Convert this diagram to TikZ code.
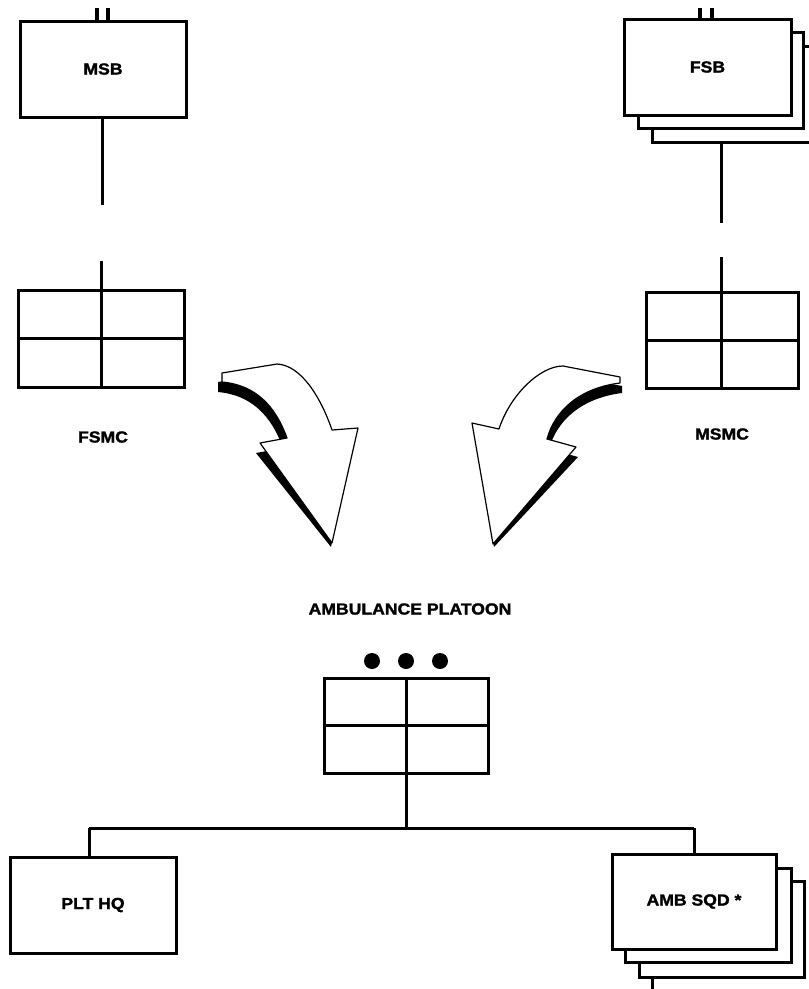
\documentclass[tikz,border=0pt]{standalone}
\usepackage{fontspec}
\setmainfont{Liberation Sans}
\newfontfamily\heavyfont{Liberation Sans Bold}[FakeBold=1.6]
\usepackage{graphicx}
\tikzset{
  lbl/.style={font=\fontsize{16}{16}\selectfont\heavyfont, inner sep=0pt},
  box/.style={draw, line width=3pt, fill=white, inner sep=0pt, font=\fontsize{16}{16}\selectfont\heavyfont},
  conn/.style={line width=3pt},
  tick/.style={line width=3.5pt},
  arrowbody/.style={draw, line width=1.2pt, fill=white, line join=round},
  arrowshadow/.style={fill=black},
  dot/.style={circle, fill=black, minimum size=16pt, inner sep=0pt},
}
\newcommand{\wt}[1]{\scalebox{1.1}[1]{#1}}
\begin{document}
\begin{tikzpicture}[x=1pt,y=-1pt]
\useasboundingbox (0,0) rectangle (809,989);
\clip (0,0) rectangle (809,989);

% ---------- MSB ----------
\node[box, minimum width=166pt, minimum height=96pt] (msb) at (103,69) {\wt{MSB}};
\coordinate (msbtA) at (97,8);
\coordinate (msbtB) at (108,8);
\draw[tick] (msbtA) -- (msbtA |- msb.north);
\draw[tick] (msbtB) -- (msbtB |- msb.north);
\coordinate (msbend) at (102,205);
\draw[conn] (msbend |- msb.south) -- (msbend);

% ---------- FSMC ----------
\node[box, minimum width=166pt, minimum height=97pt] (fsmc) at (101,338.5) {};
\draw[conn] (fsmc.north) -- (fsmc.south);
\draw[conn] (fsmc.west) -- (fsmc.east);
\coordinate (fsmctop) at (101,261);
\draw[conn] (fsmctop) -- (fsmc.north);
\node[lbl] (fsmclbl) at (103,437) {\wt{FSMC}};

% ---------- FSB stack ----------
\node[box, minimum width=166pt, minimum height=96pt] (fsb3) at (735,94) {};
\node[box, minimum width=165pt, minimum height=96pt] (fsb2) at (720.5,80) {};
\node[box, minimum width=167pt, minimum height=96pt] (fsb) at (707.5,67) {\wt{FSB}};
\coordinate (fsbtA) at (700,8);
\coordinate (fsbtB) at (712,8);
\draw[tick] (fsbtA) -- (fsbtA |- fsb.north);
\draw[tick] (fsbtB) -- (fsbtB |- fsb.north);
\coordinate (fsbend) at (721,223);
\draw[conn] (fsbend |- fsb3.south) -- (fsbend);

% ---------- MSMC ----------
\node[box, minimum width=152pt, minimum height=96pt] (msmc) at (722,340) {};
\draw[conn] (721,292) -- (721,388);
\draw[conn] (msmc.west) -- (msmc.east);
\coordinate (msmctop) at (721,257);
\draw[conn] (msmctop) -- (msmctop |- msmc.north);
\node[lbl] (msmclbl) at (722,434) {\wt{MSMC}};

% ---------- left curved arrow ----------
\fill[arrowshadow] (218,382) -- (273,373)
  .. controls (296,374) and (316,404) .. (328,439)
  -- (355,437) -- (331,547) -- (256,453) -- (283,448)
  .. controls (271,415) and (251,395) .. (218,392) -- cycle;
\path[arrowbody] (222,373) -- (277,364)
  .. controls (300,365) and (320,395) .. (332,430)
  -- (358,428) -- (332,543) -- (260,443) -- (287,438)
  .. controls (275,405) and (255,385) .. (222,382) -- cycle;

% ---------- right curved arrow ----------
\fill[arrowshadow] (622,386) -- (565,375)
  .. controls (542,375) and (512,404) .. (501,438)
  -- (474,432) -- (494,547) -- (578,457) -- (549,449)
  .. controls (557,420) and (582,398) .. (622,393) -- cycle;
\path[arrowbody] (620,377) -- (563,366)
  .. controls (540,366) and (510,395) .. (499,429)
  -- (472,423) -- (493,544) -- (576,447) -- (547,439)
  .. controls (555,410) and (580,388) .. (620,383) -- cycle;

% ---------- Ambulance platoon ----------
\node[lbl] (platlbl) at (410,609) {\wt{AMBULANCE PLATOON}};
\node[dot] (d1) at (372,661) {};
\node[dot] (d2) at (406,661) {};
\node[dot] (d3) at (440,661) {};
\node[box, minimum width=164pt, minimum height=95pt] (plat) at (406,725.5) {};
\draw[conn] (plat.north) -- (plat.south);
\draw[conn] (plat.west) -- (plat.east);

% ---------- PLT HQ ----------
\node[box, minimum width=166pt, minimum height=96pt] (plthq) at (93,905) {\wt{PLT HQ}};

% ---------- AMB SQD stack ----------
\node[box, minimum width=165pt, minimum height=96pt] (amb3) at (721.5,929) {};
\node[box, minimum width=166pt, minimum height=94pt] (amb2) at (708,915) {};
\node[box, minimum width=164pt, minimum height=95pt] (amb) at (694,901.5) {\wt{AMB SQD *}};
\coordinate (ambend) at (652,989);
\draw[conn] (ambend |- amb3.south) -- (ambend);

% ---------- bus ----------
\coordinate (busL) at (89,828);
\coordinate (busR) at (694,828);
\draw[conn] (plat.south) -- (plat.south |- busL);
\draw[conn] (busL) -- (busR);
\draw[conn] (busL) -- (busL |- plthq.north);
\draw[conn] (busR) -- (busR |- amb.north);
\end{tikzpicture}
\end{document}
